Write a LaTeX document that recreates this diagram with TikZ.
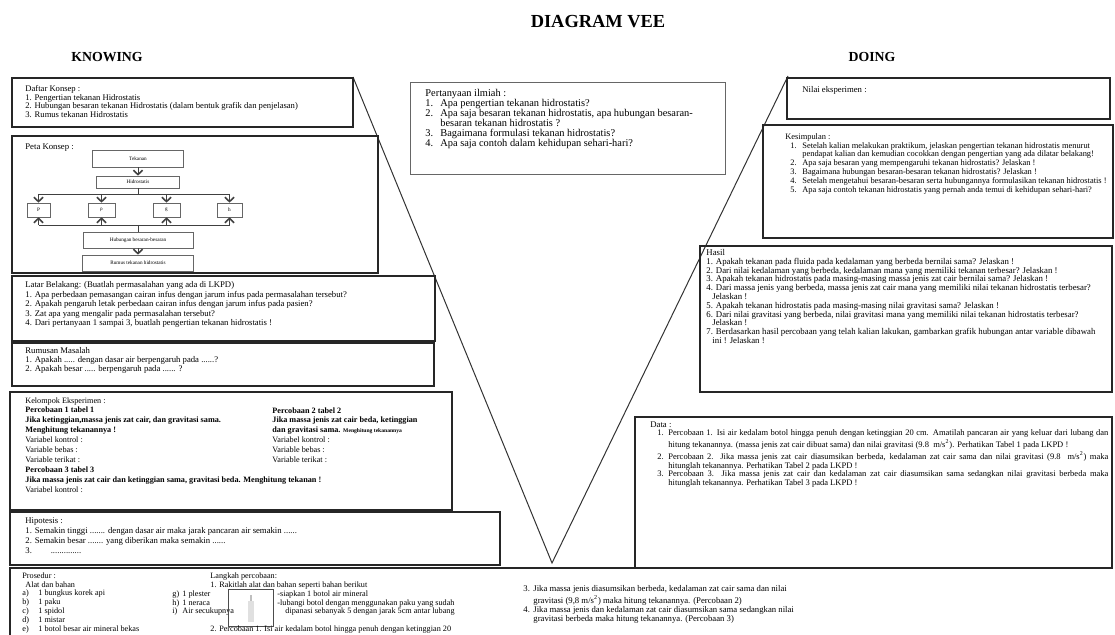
\documentclass[tikz,border=0pt]{standalone}
\usepackage{fontspec}
\setmainfont{Liberation Serif}
\usetikzlibrary{arrows.meta}

\begin{document}
\begin{tikzpicture}[x=0.5pt,y=-0.5pt,
    frame/.style={draw=black!85,line width=0.8pt},
    txt/.style={anchor=north west,inner sep=0pt,align=left,font=\fontsize{4.35}{4.5}\selectfont},
    head/.style={font=\fontsize{6.9}{7}\selectfont\bfseries},
    cbox/.style={draw=black!60,line width=0.3pt,inner sep=0pt,font=\fontsize{2.6}{3}\selectfont},
    flow/.style={draw=black!75,line width=0.3pt,-{Straight Barb[length=2.2pt,width=4.6pt,line width=0.8pt]}}]
    \useasboundingbox (0,0) rectangle (1115,635);

    % titles
    \node[font=\fontsize{9.2}{10}\selectfont\bfseries] (title) at (598,22) {DIAGRAM VEE};
    \node[head] (knowing) at (107,57) {KNOWING};
    \node[head] (doing) at (872,57) {DOING};

    % the vee
    \coordinate (vl) at (353,77);
    \coordinate (vr) at (788,76);
    \coordinate (vb) at (552,563);
    \draw[black!80,line width=0.5pt] (vl) -- (vb) -- (vr);

    % boxes
    \draw[frame] (12,78) rectangle (353,127);
    \draw[frame] (12,136) rectangle (378,273);
    \draw[frame] (12,276) rectangle (435,341);
    \draw[frame] (12,343) rectangle (434,386);
    \draw[frame] (10,392) rectangle (452,510);
    \draw[frame] (10,512) rectangle (500,565);
    \draw[frame] (10,640) -- (10,568) -- (1112,568);
    \draw[frame] (787,78) rectangle (1110,119);
    \draw[frame] (763,125) rectangle (1113,238);
    \draw[frame] (700,246) rectangle (1112,392);
    \draw[frame] (635,417) rectangle (1112,568);
    \draw[black!60,line width=0.5pt] (410,83) rectangle (725,175);

    % knowing side
    \node[txt,font=\fontsize{4.3}{4.3}\selectfont] (daftar) at (25,85) {Daftar Konsep :\\
        1. Pengertian tekanan Hidrostatis\\
        2. Hubungan besaran tekanan Hidrostatis (dalam bentuk grafik dan penjelasan)\\
        3. Rumus tekanan Hidrostatis};

    \node[txt] (peta) at (25,143) {Peta Konsep :};
    \node[cbox,minimum width=45.5pt,minimum height=8.5pt] (tek) at (138,158.5) {Tekanan};
    \node[cbox,minimum width=41.5pt,minimum height=6pt] (hid) at (138,182) {Hidrostatis};
    \node[cbox,minimum width=11.5pt,minimum height=7pt] (p) at (38.5,210) {P};
    \node[cbox,minimum width=13.5pt,minimum height=7pt] (rho) at (101.5,210) {ρ};
    \node[cbox,minimum width=13.5pt,minimum height=7pt] (g) at (166.5,210) {g};
    \node[cbox,minimum width=12.5pt,minimum height=7pt] (h) at (229.5,210) {h};
    \node[cbox,minimum width=55pt,minimum height=8pt] (hub) at (138,240) {Hubungan besaran-besaran};
    \node[cbox,minimum width=55.5pt,minimum height=8pt] (rum) at (138,263) {Rumus tekanan hidrostatis};
    \coordinate (split) at (138,194);
    \coordinate (merge) at (138,225);
    \draw[flow] (tek) -- (hid);
    \draw[black!75,line width=0.4pt] (hid) -- (split);
    \draw[black!75,line width=0.4pt] (p.north |- split) -- (h.north |- split);
    \draw[flow] (p.north |- split) -- (p);
    \draw[flow] (rho.north |- split) -- (rho);
    \draw[flow] (g.north |- split) -- (g);
    \draw[flow] (h.north |- split) -- (h);
    \draw[black!75,line width=0.4pt] (p.south |- merge) -- (h.south |- merge);
    \draw[flow] (p.south |- merge) -- (p);
    \draw[flow] (rho.south |- merge) -- (rho);
    \draw[flow] (g.south |- merge) -- (g);
    \draw[flow] (h.south |- merge) -- (h);
    \draw[black!75,line width=0.4pt] (merge) -- (hub);
    \draw[flow] (hub) -- (rum);

    \node[txt,font=\fontsize{4.35}{4.8}\selectfont] (latar) at (25,281) {Latar Belakang: (Buatlah permasalahan yang ada di LKPD)\\
        1. Apa perbedaan pemasangan cairan infus dengan jarum infus pada permasalahan tersebut?\\
        2. Apakah pengaruh letak perbedaan cairan infus dengan jarum infus pada pasien?\\
        3. Zat apa yang mengalir pada permasalahan tersebut?\\
        4. Dari pertanyaan 1 sampai 3, buatlah pengertian tekanan hidrostatis !};

    \node[txt,font=\fontsize{4.35}{4.6}\selectfont] (rumusan) at (25,347) {Rumusan Masalah\\
        1. Apakah ..... dengan dasar air berpengaruh pada ......?\\
        2. Apakah besar ..... berpengaruh pada ...... ?};

    \node[txt,font=\fontsize{4.1}{4.95}\selectfont] (kelompok) at (25,397) {Kelompok Eksperimen :\\
        \textbf{Percobaan 1 tabel 1}\\
        \textbf{Jika ketinggian,massa jenis zat cair, dan gravitasi sama.}\\
        \textbf{Menghitung tekanannya !}\\
        Variabel kontrol :\\
        Variable bebas :\\
        Variable terikat :\\
        \textbf{Percobaan 3 tabel 3}\\
        \textbf{Jika massa jenis zat cair dan ketinggian sama, gravitasi beda. Menghitung tekanan !}\\
        Variabel kontrol :};
    \node[txt,font=\fontsize{4.1}{4.95}\selectfont] (kelompokb) at (272,407) {\textbf{Percobaan 2 tabel 2}\\
        \textbf{Jika massa jenis zat cair beda, ketinggian}\\
        \textbf{dan gravitasi sama. {\fontsize{2.8}{3}\selectfont Menghitung tekanannya}}\\
        Variabel kontrol :\\
        Variable bebas :\\
        Variable terikat :};

    \node[txt,font=\fontsize{4.35}{5}\selectfont] (hipotesis) at (25,517) {Hipotesis :\\
        1. Semakin tinggi ....... dengan dasar air maka jarak pancaran air semakin ......\\
        2. Semakin besar ....... yang diberikan maka semakin ......\\
        3. \hspace{8pt}..............};

    % bottom band
    \node[txt,font=\fontsize{4.1}{4.4}\selectfont] (prosedur) at (22,572.3) {Prosedur :\\
        \hspace*{1.5pt}Alat dan bahan\\
        \makebox[8pt][l]{a)}1 bungkus korek api\\
        \makebox[8pt][l]{b)}1 paku\\
        \makebox[8pt][l]{c)}1 spidol\\
        \makebox[8pt][l]{d)}1 mistar\\
        \makebox[8pt][l]{e)}1 botol besar air mineral bekas};
    \node[txt,font=\fontsize{4.1}{4.4}\selectfont] (alat) at (172,590.3) {\makebox[5pt][l]{g)}1 plester\\
        \makebox[5pt][l]{h)}1 neraca\\
        \makebox[5pt][l]{i)}Air secukupnya};
    \node[txt,font=\fontsize{4.1}{4.4}\selectfont] (langkah) at (210,572.3) {Langkah percobaan:\\
        1. Rakitlah alat dan bahan seperti bahan berikut};
    \draw[black!70,line width=0.5pt] (228,590) rectangle (273,627);
    \fill[black!12] (248,601) rectangle (254,622);
    \fill[black!25] (250,595) rectangle (252,601);
    \node[txt,font=\fontsize{4.1}{4.4}\selectfont] (siapkan) at (277,590.3) {-siapkan 1 botol air mineral\\
        -lubangi botol dengan menggunakan paku yang sudah\\
        \hspace*{4pt}dipanasi sebanyak 5 dengan jarak 5cm antar lubang};
    \node[txt,font=\fontsize{4.1}{4.4}\selectfont] (langkahb) at (210,625.3) {2. Percobaan 1. Isi air kedalam botol hingga penuh dengan ketinggian 20};
    \node[txt,font=\fontsize{4.35}{4.5}\selectfont] (langkahc) at (523,585) {\makebox[5pt][l]{3.}Jika massa jenis diasumsikan berbeda, kedalaman zat cair sama dan nilai\\
        \hspace*{5pt}gravitasi (9,8 m/s\textsuperscript{2}) maka hitung tekanannya. (Percobaan 2)\\
        \makebox[5pt][l]{4.}Jika massa jenis dan kedalaman zat cair diasumsikan sama sedangkan nilai\\
        \hspace*{5pt}gravitasi berbeda maka hitung tekanannya. (Percobaan 3)};

    % centre question
    \node[txt,font=\fontsize{5.2}{5}\selectfont] (tanya) at (425,89) {Pertanyaan ilmiah :\\
        \makebox[7.5pt][l]{1.}Apa pengertian tekanan hidrostatis?\\
        \makebox[7.5pt][l]{2.}Apa saja besaran tekanan hidrostatis, apa hubungan besaran-\\
        \hspace*{7.5pt}besaran tekanan hidrostatis ?\\
        \makebox[7.5pt][l]{3.}Bagaimana formulasi tekanan hidrostatis?\\
        \makebox[7.5pt][l]{4.}Apa saja contoh dalam kehidupan sehari-hari?};

    % doing side
    \node[txt] (nilai) at (802,86) {Nilai eksperimen :};

    \node[txt,font=\fontsize{4.2}{4.4}\selectfont] (kesimpulan) at (785,133) {Kesimpulan :\\
        \hspace*{2.5pt}\makebox[6pt][l]{1.}Setelah kalian melakukan praktikum, jelaskan pengertian tekanan hidrostatis menurut\\
        \hspace*{8.5pt}pendapat kalian dan kemudian cocokkan dengan pengertian yang ada dilatar belakang!\\
        \hspace*{2.5pt}\makebox[6pt][l]{2.}Apa saja besaran yang mempengaruhi tekanan hidrostatis? Jelaskan !\\
        \hspace*{2.5pt}\makebox[6pt][l]{3.}Bagaimana hubungan besaran-besaran tekanan hidrostatis? Jelaskan !\\
        \hspace*{2.5pt}\makebox[6pt][l]{4.}Setelah mengetahui besaran-besaran serta hubungannya formulasikan tekanan hidrostatis !\\
        \hspace*{2.5pt}\makebox[6pt][l]{5.}Apa saja contoh tekanan hidrostatis yang pernah anda temui di kehidupan sehari-hari?};

    \node[txt,font=\fontsize{4.4}{4.4}\selectfont] (hasil) at (706,249) {Hasil\\
        1. Apakah tekanan pada fluida pada kedalaman yang berbeda bernilai sama? Jelaskan !\\
        2. Dari nilai kedalaman yang berbeda, kedalaman mana yang memiliki tekanan terbesar? Jelaskan !\\
        3. Apakah tekanan hidrostatis pada masing-masing massa jenis zat cair bernilai sama? Jelaskan !\\
        4. Dari massa jenis yang berbeda, massa jenis zat cair mana yang memiliki nilai tekanan hidrostatis terbesar?\\
        \hspace*{3pt}Jelaskan !\\
        5. Apakah tekanan hidrostatis pada masing-masing nilai gravitasi sama? Jelaskan !\\
        6. Dari nilai gravitasi yang berbeda, nilai gravitasi mana yang memiliki nilai tekanan hidrostatis terbesar?\\
        \hspace*{3pt}Jelaskan !\\
        7. Berdasarkan hasil percobaan yang telah kalian lakukan, gambarkan grafik hubungan antar variable dibawah\\
        \hspace*{3pt}ini ! Jelaskan !};

    \node[txt] (datahead) at (650,421) {Data :};
    \node[txt,text width=225.5pt,align=justify,font=\fontsize{4.25}{4.3}\selectfont] (data) at (657,429.5) {\parindent=0pt\tolerance=9999
        \hangindent=5.5pt\hangafter=1\makebox[5.5pt][l]{1.}Percobaan 1. Isi air kedalam botol hingga penuh dengan ketinggian 20 cm. Amatilah pancaran air yang keluar dari lubang dan\linebreak hitung tekanannya. (massa jenis zat cair dibuat sama) dan nilai gravitasi (9.8\ \ m/s\textsuperscript{2}). Perhatikan Tabel 1 pada LKPD !\par
        \hangindent=5.5pt\hangafter=1\makebox[5.5pt][l]{2.}Percobaan 2. Jika massa jenis zat cair diasumsikan berbeda, kedalaman zat cair sama dan nilai gravitasi (9.8\ \ m/s\textsuperscript{2}) maka\linebreak hitunglah tekanannya. Perhatikan Tabel 2 pada LKPD !\par
        \hangindent=5.5pt\hangafter=1\makebox[5.5pt][l]{3.}Percobaan 3. Jika massa jenis zat cair dan kedalaman zat cair diasumsikan sama sedangkan nilai gravitasi berbeda maka\linebreak hitunglah tekanannya. Perhatikan Tabel 3 pada LKPD !\par};
\end{tikzpicture}
\end{document}
